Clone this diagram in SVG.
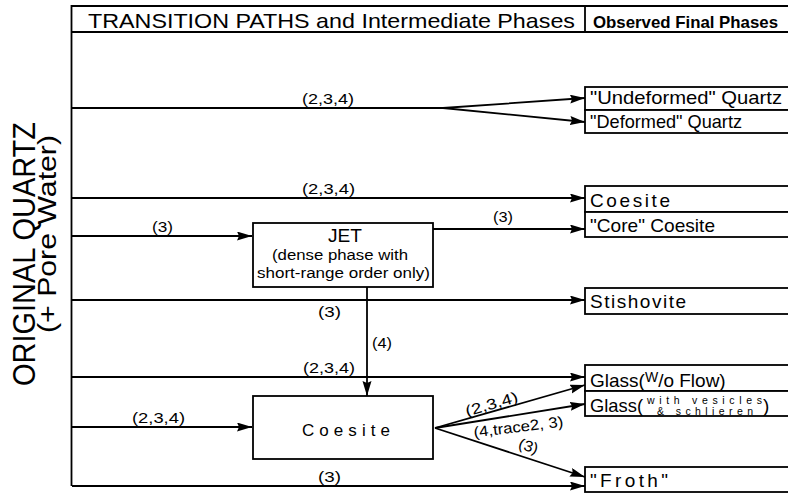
<svg xmlns="http://www.w3.org/2000/svg" width="788" height="494" viewBox="0 0 788 494">
<style>
text{font-family:"Liberation Sans",Arial,sans-serif;fill:#000}
.ln{stroke:#000;stroke-width:1.8;fill:none}
.box{stroke:#000;stroke-width:1.8;fill:#fff}
.lab{font-size:15px}
.fin{font-size:19px}
</style>
<defs>
<marker id="ar" markerUnits="userSpaceOnUse" markerWidth="16" markerHeight="10" refX="15" refY="4.5" orient="auto">
<path d="M0,0 L15,4.5 L0,9 L2,4.5 z" fill="#000"/>
</marker>
</defs>
<rect width="788" height="494" fill="#fff"/>
<g id="frame">
<path class="ln" d="M71.5,486 V6 H790 M71.5,32 H790 M585,6 V32"/>
<text x="88" y="28" font-size="21" textLength="487" lengthAdjust="spacingAndGlyphs">TRANSITION PATHS and Intermediate Phases</text>
<text x="593" y="28" font-size="17" font-weight="bold" textLength="185" lengthAdjust="spacingAndGlyphs">Observed Final Phases</text>
</g>
<g id="source">
<text transform="translate(35,254) rotate(-90)" text-anchor="middle" font-size="31" textLength="264" lengthAdjust="spacingAndGlyphs">ORIGINAL QUARTZ</text>
<text transform="translate(56,234) rotate(-90)" text-anchor="middle" font-size="26" textLength="198" lengthAdjust="spacingAndGlyphs">(+ Pore Water)</text>
</g>
<g id="connectors">
<path class="ln" d="M72,108 H443 L585,98" marker-end="url(#ar)"/>
<path class="ln" d="M443,108 L585,122" marker-end="url(#ar)"/>
<path class="ln" d="M72,198 H585" marker-end="url(#ar)"/>
<path class="ln" d="M72,236 H252" marker-end="url(#ar)"/>
<path class="ln" d="M433,229 H585" marker-end="url(#ar)"/>
<path class="ln" d="M72,300 H585" marker-end="url(#ar)"/>
<path class="ln" d="M367,287 V396" marker-end="url(#ar)"/>
<path class="ln" d="M72,377 H585" marker-end="url(#ar)"/>
<path class="ln" d="M72,427 H252" marker-end="url(#ar)"/>
<path class="ln" d="M435,428 L585,385" marker-end="url(#ar)"/>
<path class="ln" d="M435,428 L585,404" marker-end="url(#ar)"/>
<path class="ln" d="M435,428 L585,477" marker-end="url(#ar)"/>
<path class="ln" d="M72,486 H585" marker-end="url(#ar)"/>
<text class="lab" x="302" y="104" textLength="52" lengthAdjust="spacingAndGlyphs">(2,3,4)</text>
<text class="lab" x="302" y="194" textLength="53" lengthAdjust="spacingAndGlyphs">(2,3,4)</text>
<text class="lab" x="152" y="232" textLength="21" lengthAdjust="spacingAndGlyphs">(3)</text>
<text class="lab" x="493" y="222" textLength="20" lengthAdjust="spacingAndGlyphs">(3)</text>
<text class="lab" x="318" y="317" textLength="23" lengthAdjust="spacingAndGlyphs">(3)</text>
<text class="lab" x="372" y="348" textLength="20" lengthAdjust="spacingAndGlyphs">(4)</text>
<text class="lab" x="303" y="373" textLength="52" lengthAdjust="spacingAndGlyphs">(2,3,4)</text>
<text class="lab" x="132" y="423" textLength="53" lengthAdjust="spacingAndGlyphs">(2,3,4)</text>
<text class="lab" x="318" y="482" textLength="23" lengthAdjust="spacingAndGlyphs">(3)</text>
<text class="lab" transform="translate(493,409) rotate(-16)" text-anchor="middle" textLength="54" lengthAdjust="spacingAndGlyphs">(2,3,4)</text>
<text class="lab" transform="translate(519,432) rotate(-7)" text-anchor="middle" textLength="90" lengthAdjust="spacingAndGlyphs">(4,trace2, 3)</text>
<text class="lab" transform="translate(527,451) rotate(17)" text-anchor="middle" textLength="20" lengthAdjust="spacingAndGlyphs">(3)</text>
</g>
<g id="jet">
<rect class="box" x="253" y="223" width="180" height="64"/>
<text x="345" y="242" font-size="18" text-anchor="middle" textLength="34" lengthAdjust="spacingAndGlyphs">JET</text>
<text x="340" y="260" font-size="15.5" text-anchor="middle" textLength="136" lengthAdjust="spacingAndGlyphs">(dense phase with</text>
<text x="343.5" y="278" font-size="15.5" text-anchor="middle" textLength="173" lengthAdjust="spacingAndGlyphs">short-range order only)</text>
</g>
<g id="coesite-mid">
<rect class="box" x="253" y="396" width="180" height="63"/>
<text x="302" y="436" font-size="17" textLength="88" lengthAdjust="spacing">Coesite</text>
</g>
<g id="quartz-final">
<rect class="box" x="585" y="87" width="206" height="23"/>
<rect class="box" x="585" y="110" width="206" height="23"/>
<text class="fin" x="590" y="104" textLength="192" lengthAdjust="spacingAndGlyphs">"Undeformed" Quartz</text>
<text class="fin" x="590" y="128" textLength="152" lengthAdjust="spacingAndGlyphs">"Deformed" Quartz</text>
</g>
<g id="coesite-final">
<rect class="box" x="585" y="186" width="206" height="26"/>
<rect class="box" x="585" y="212" width="206" height="25"/>
<text class="fin" x="590" y="207" textLength="80" lengthAdjust="spacing">Coesite</text>
<text class="fin" x="590" y="232" textLength="125" lengthAdjust="spacingAndGlyphs">"Core" Coesite</text>
</g>
<g id="stishovite">
<rect class="box" x="585" y="288" width="206" height="26"/>
<text class="fin" x="590" y="308" textLength="96" lengthAdjust="spacing">Stishovite</text>
</g>
<g id="glass">
<rect class="box" x="585" y="365" width="206" height="26"/>
<rect class="box" x="585" y="391" width="206" height="25"/>
<text class="fin" x="590" y="387">Glass(<tspan font-size="14" dy="-5">W</tspan><tspan font-size="19" dy="5">/o Flow)</tspan></text>
<text class="fin" x="590" y="412" textLength="53" lengthAdjust="spacingAndGlyphs">Glass(</text>
<text x="647" y="404" font-size="10.5" textLength="115" lengthAdjust="spacing">with vesicles</text>
<text x="657" y="415" font-size="10.5" textLength="96" lengthAdjust="spacing">&amp; schlieren</text>
<text class="fin" x="763" y="412">)</text>
</g>
<g id="froth">
<rect class="box" x="585" y="467" width="206" height="25"/>
<text class="fin" x="590" y="487" textLength="78" lengthAdjust="spacing">"Froth"</text>
</g>
</svg>
